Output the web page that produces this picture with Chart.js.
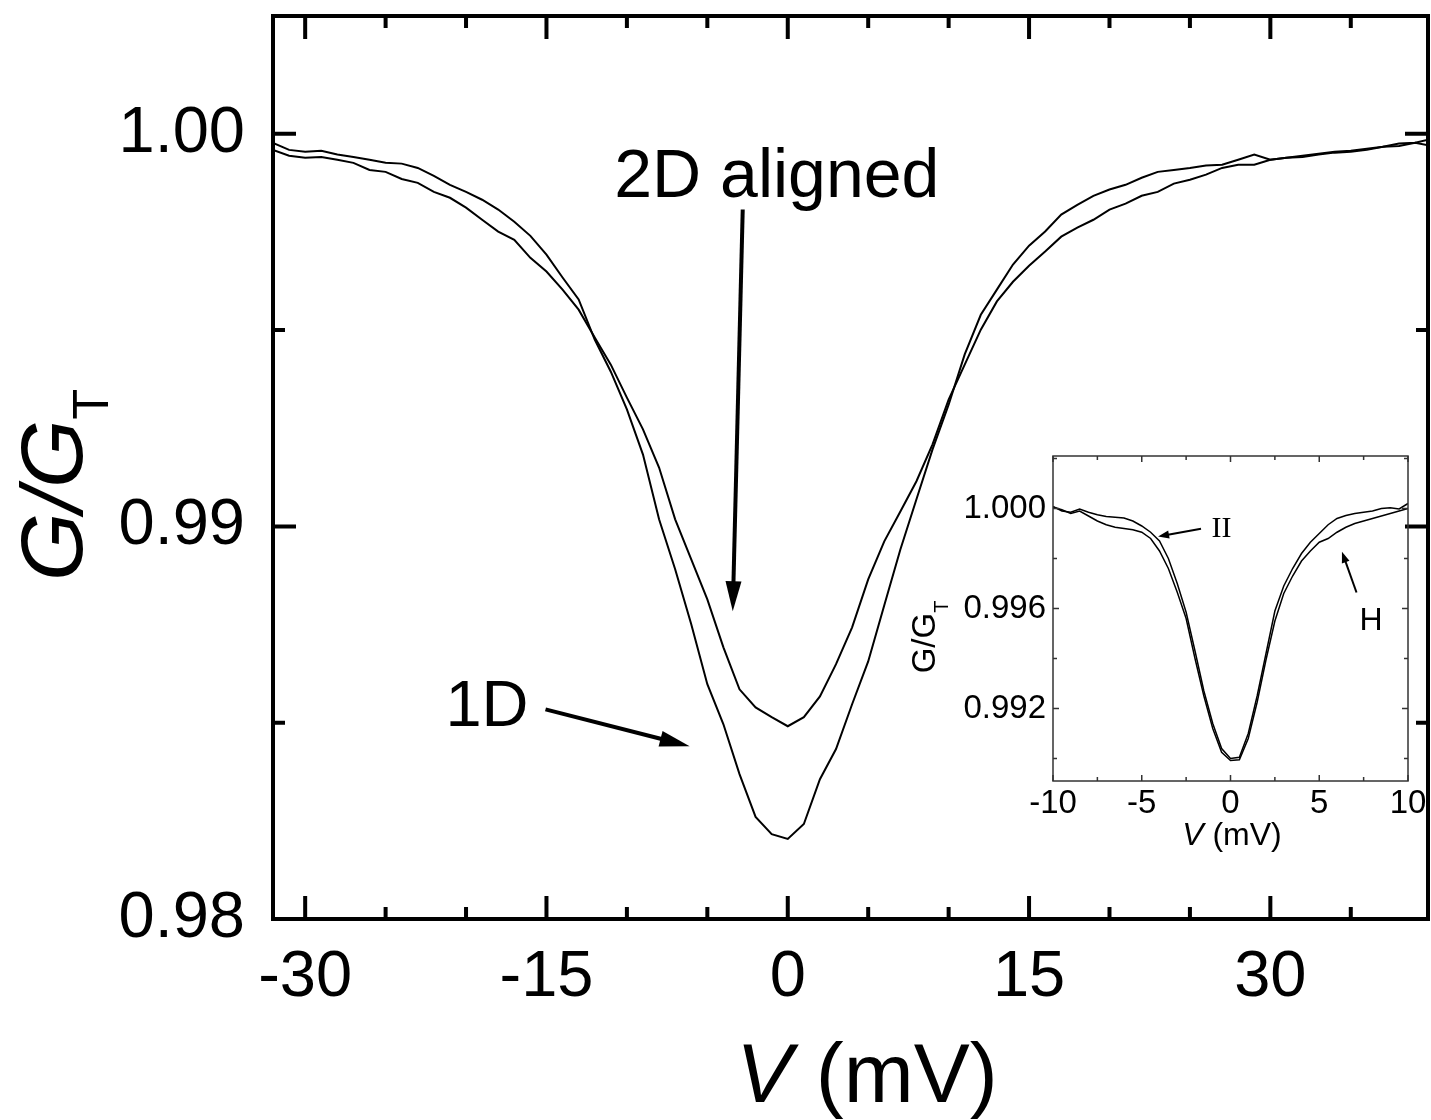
<!DOCTYPE html>
<html>
<head>
<meta charset="utf-8">
<title>G/GT vs V</title>
<script src="https://cdn.jsdelivr.net/npm/chart.js@4.4.0/dist/chart.umd.min.js"></script>
<style>
  html, body { margin: 0; padding: 0; background: #fff; }
  #wrap { position: relative; width: 1431px; height: 1120px; }
  #main { position: absolute; left: 0; top: 0; }
  #inset { position: absolute; left: 880px; top: 440px; }
</style>
</head>
<body>
<div id="wrap">
  <canvas id="main" width="1431" height="1120"></canvas>
  <canvas id="inset" width="551" height="440"></canvas>
</div>
<script>
// ---- main panel data (V in mV, G/GT) ----
const mainVoltage = [-32, -31, -30, -29, -28, -27, -26, -25, -24, -23, -22, -21, -20, -19, -18, -17,
  -16, -15, -14, -13, -12, -11, -10, -9, -8, -7, -6, -5, -4, -3, -2, -1, 0, 1, 2, 3, 4, 5, 6, 7, 8,
  9, 10, 11, 12, 13, 14, 15, 16, 17, 18, 19, 20, 21, 22, 23, 24, 25, 26, 27, 28, 29, 30, 31, 32, 33,
  34, 35, 36, 37, 38, 39, 40];
const main1D = [0.99977, 0.99959, 0.99954, 0.99957, 0.99947, 0.99941, 0.99934, 0.99926, 0.99924,
  0.99913, 0.99893, 0.99870, 0.99852, 0.99832, 0.99807, 0.99776, 0.99740, 0.99692, 0.99634, 0.99578,
  0.99476, 0.99394, 0.99298, 0.99183, 0.99018, 0.98891, 0.98751, 0.98598, 0.98496, 0.98369, 0.98260,
  0.98216, 0.98204, 0.98242, 0.98356, 0.98433, 0.98547, 0.98656, 0.98799, 0.98941, 0.99069, 0.99196,
  0.99310, 0.99438, 0.99539, 0.99603, 0.99667, 0.99715, 0.99751, 0.99794, 0.99819, 0.99842, 0.99858,
  0.99870, 0.99888, 0.99903, 0.99908, 0.99913, 0.99919, 0.99921, 0.99934, 0.99947, 0.99934, 0.99939,
  0.99944, 0.99949, 0.99954, 0.99957, 0.99962, 0.99967, 0.99975, 0.99977, 0.99987];
const main2D = [0.99959, 0.99944, 0.99939, 0.99941, 0.99934, 0.99926, 0.99908, 0.99903, 0.99885,
  0.99875, 0.99852, 0.99837, 0.99812, 0.99781, 0.99751, 0.99730, 0.99684, 0.99649, 0.99603, 0.99552,
  0.99481, 0.99412, 0.99328, 0.99247, 0.99150, 0.99018, 0.98916, 0.98814, 0.98692, 0.98585, 0.98539,
  0.98514, 0.98491, 0.98514, 0.98567, 0.98649, 0.98743, 0.98865, 0.98962, 0.99038, 0.99115, 0.99209,
  0.99323, 0.99412, 0.99501, 0.99573, 0.99623, 0.99664, 0.99700, 0.99738, 0.99761, 0.99781, 0.99807,
  0.99822, 0.99842, 0.99852, 0.99873, 0.99883, 0.99896, 0.99913, 0.99921, 0.99921, 0.99934, 0.99939,
  0.99941, 0.99947, 0.99952, 0.99954, 0.99959, 0.99967, 0.99969, 0.99977, 0.99969];

// ---- inset data ----
const insetVoltage = [-10, -9.5, -9, -8.5, -8, -7.5, -7, -6.5, -6, -5.5, -5, -4.5, -4, -3.5, -3, -2.5,
  -2, -1.5, -1, -0.5, 0, 0.5, 1, 1.5, 2, 2.5, 3, 3.5, 4, 4.5, 5, 5.5, 6, 6.5, 7, 7.5, 8, 8.5, 9, 9.5, 10];
const insetPar = [1.00008, 0.99990, 0.99985, 0.99998, 0.99985, 0.99975, 0.99968, 0.99965, 0.99962,
  0.99950, 0.99930, 0.99905, 0.99870, 0.99800, 0.99700, 0.99585, 0.99430, 0.99270, 0.99140, 0.99040,
  0.99000, 0.99005, 0.99100, 0.99250, 0.99420, 0.99590, 0.99690, 0.99760, 0.99820, 0.99865, 0.99900,
  0.99935, 0.99960, 0.99972, 0.99980, 0.99985, 0.99990, 1.00000, 1.00003, 0.99998, 1.00020];
const insetPerp = [1.00005, 0.99995, 0.99980, 0.99990, 0.99970, 0.99950, 0.99935, 0.99925, 0.99920,
  0.99915, 0.99905, 0.99880, 0.99830, 0.99760, 0.99665, 0.99560, 0.99400, 0.99250, 0.99120, 0.99025,
  0.98992, 0.98995, 0.99080, 0.99225, 0.99395, 0.99550, 0.99660, 0.99730, 0.99790, 0.99830, 0.99865,
  0.99880, 0.99905, 0.99925, 0.99940, 0.99950, 0.99960, 0.99970, 0.99980, 0.99990, 1.00000];

// ---- ticks ----
const mainXMajor = [-30, -15, 0, 15, 30];
const mainXMinor = [-25, -20, -10, -5, 5, 10, 20, 25, 35];
const mainYMajor = [0.98, 0.99, 1.00];
const mainYMinor = [0.985, 0.995];
const insetXMajor = [-10, -5, 0, 5, 10];
const insetXMinor = [-7.5, -2.5, 2.5, 7.5];
const insetYMajor = [0.992, 0.996, 1.000];
const insetYMinor = [0.990, 0.994, 0.998, 1.002];

const SANS = "'Liberation Sans', Arial, Helvetica, sans-serif";
const SERIF = "'Liberation Serif', 'Times New Roman', serif";

function toPoints(xs, ys) {
  return xs.map((v, i) => ({ x: v, y: ys[i] }));
}

// inward ticks on all four sides plus the frame
function frameTicks(opts) {
  return {
    id: 'frameTicks',
    afterDraw(chart) {
      const { ctx, chartArea: a, scales: { x, y } } = chart;
      ctx.save();
      ctx.strokeStyle = opts.color;
      ctx.lineWidth = opts.tickWidth;
      ctx.beginPath();
      const xt = (vals, len) => vals.forEach(v => {
        const p = x.getPixelForValue(v);
        ctx.moveTo(p, a.bottom); ctx.lineTo(p, a.bottom - len);
        ctx.moveTo(p, a.top); ctx.lineTo(p, a.top + len);
      });
      const yt = (vals, len) => vals.forEach(v => {
        const p = y.getPixelForValue(v);
        ctx.moveTo(a.left, p); ctx.lineTo(a.left + len, p);
        ctx.moveTo(a.right, p); ctx.lineTo(a.right - len, p);
      });
      xt(opts.xMajor, opts.major); xt(opts.xMinor, opts.minor);
      yt(opts.yMajor, opts.major); yt(opts.yMinor, opts.minor);
      ctx.stroke();
      ctx.lineWidth = opts.frameWidth;
      ctx.strokeRect(a.left, a.top, a.right - a.left, a.bottom - a.top);
      ctx.restore();
    }
  };
}

function drawArrow(ctx, x1, y1, x2, y2, w, headLen, headHalf) {
  const ang = Math.atan2(y2 - y1, x2 - x1);
  const c = Math.cos(ang), s = Math.sin(ang);
  const bx = x2 - headLen * c, by = y2 - headLen * s;
  ctx.lineWidth = w;
  ctx.beginPath(); ctx.moveTo(x1, y1); ctx.lineTo(bx + c, by + s); ctx.stroke();
  ctx.beginPath();
  ctx.moveTo(x2, y2);
  ctx.lineTo(bx + headHalf * s, by - headHalf * c);
  ctx.lineTo(bx - headHalf * s, by + headHalf * c);
  ctx.closePath(); ctx.fill();
}

// axis titles with italic symbols and subscript
function drawRotTitle(ctx, cx, baseX, mainFont, subFont, subDrop) {
  ctx.save();
  ctx.font = mainFont;
  const w1 = ctx.measureText('G/G').width;
  ctx.font = subFont;
  const w2 = ctx.measureText('T').width;
  const total = w1 + w2;
  ctx.translate(baseX, cx);
  ctx.rotate(-Math.PI / 2);
  ctx.textBaseline = 'alphabetic';
  ctx.textAlign = 'left';
  ctx.font = mainFont;
  ctx.fillText('G/G', -total / 2, 0);
  ctx.font = subFont;
  ctx.fillText('T', -total / 2 + w1, subDrop);
  ctx.restore();
}

function drawVTitle(ctx, cx, base, size) {
  ctx.save();
  ctx.textBaseline = 'alphabetic';
  ctx.textAlign = 'left';
  ctx.font = 'italic ' + size + 'px ' + SANS;
  const wV = ctx.measureText('V').width;
  ctx.font = size + 'px ' + SANS;
  const wR = ctx.measureText(' (mV)').width;
  const x0 = cx - (wV + wR) / 2;
  ctx.font = 'italic ' + size + 'px ' + SANS;
  ctx.fillText('V', x0, base);
  ctx.font = size + 'px ' + SANS;
  ctx.fillText(' (mV)', x0 + wV, base);
  ctx.restore();
}

const mainNotes = {
  id: 'mainNotes',
  afterDraw(chart) {
    const { ctx, scales: { x, y } } = chart;
    ctx.save();
    ctx.fillStyle = '#000'; ctx.strokeStyle = '#000';
    ctx.textAlign = 'center'; ctx.textBaseline = 'alphabetic';
    ctx.font = '68px ' + SANS;
    ctx.fillText('2D aligned', x.getPixelForValue(-0.68), y.getPixelForValue(0.99840));
    ctx.font = '65px ' + SANS;
    ctx.fillText('1D', x.getPixelForValue(-18.7), y.getPixelForValue(0.98491));
    drawArrow(ctx, x.getPixelForValue(-2.80), y.getPixelForValue(0.99807),
      x.getPixelForValue(-3.42), y.getPixelForValue(0.98784), 4, 30, 8);
    drawArrow(ctx, x.getPixelForValue(-15.06), y.getPixelForValue(0.98534),
      x.getPixelForValue(-6.10), y.getPixelForValue(0.98440), 4, 30, 8);
    drawVTitle(ctx, 867, 1102, 84);
    drawRotTitle(ctx, 485, 82, 'italic 88px ' + SANS, '50px ' + SANS, 26);
    ctx.restore();
  }
};

const insetNotes = {
  id: 'insetNotes',
  afterDraw(chart) {
    const { ctx, scales: { x, y } } = chart;
    ctx.save();
    ctx.fillStyle = '#000'; ctx.strokeStyle = '#000';
    ctx.textAlign = 'center'; ctx.textBaseline = 'alphabetic';
    ctx.font = '30px ' + SERIF;
    ctx.fillText('II', x.getPixelForValue(-0.51), y.getPixelForValue(0.99888));
    ctx.font = '32px ' + SANS;
    ctx.fillText('H', x.getPixelForValue(7.92), y.getPixelForValue(0.99516));
    drawArrow(ctx, x.getPixelForValue(-1.66), y.getPixelForValue(0.99919),
      x.getPixelForValue(-4.08), y.getPixelForValue(0.99888), 2, 11, 4);
    drawArrow(ctx, x.getPixelForValue(7.10), y.getPixelForValue(0.99664),
      x.getPixelForValue(6.28), y.getPixelForValue(0.99827), 2, 11, 4);
    drawVTitle(ctx, 352, 405, 32);
    drawRotTitle(ctx, 197, 55, '33px ' + SANS, '20px ' + SANS, 13);
    ctx.restore();
  }
};

function lineSet(label, pts, w) {
  return { label, data: pts, showLine: true, borderColor: '#000', borderWidth: w,
    pointRadius: 0, tension: 0, fill: false };
}

// fixed axis box size; drop the label overhang padding so the plot area sits where we want
function fixBox(prop, size) {
  return s => {
    s[prop] = size;
    s.paddingTop = 0; s.paddingBottom = 0; s.paddingLeft = 0; s.paddingRight = 0;
  };
}

function axis(min, max, majors, fmt, font, pad, fitFn) {
  return {
    type: 'linear', min, max,
    afterBuildTicks: s => { s.ticks = majors.map(v => ({ value: v })); },
    afterFit: fitFn,
    grid: { display: false, drawTicks: false },
    border: { display: false },
    ticks: { color: '#000', font: { family: SANS, size: font }, padding: pad,
      autoSkip: false, maxRotation: 0, callback: fmt }
  };
}

new Chart(document.getElementById('main'), {
  type: 'scatter',
  data: {
    datasets: [
      lineSet('1D', toPoints(mainVoltage, main1D), 2),
      lineSet('2D aligned', toPoints(mainVoltage, main2D), 2)
    ]
  },
  options: {
    responsive: false,
    animation: false,
    layout: { padding: { top: 16, right: 3, left: 0, bottom: 0 } },
    plugins: { legend: { display: false }, tooltip: { enabled: false } },
    scales: {
      x: axis(-32, 39.8, mainXMajor, v => String(v), 65, 20, fixBox('height', 201)),
      y: axis(0.98, 1.003, mainYMajor, v => v.toFixed(2), 65, 28, fixBox('width', 273))
    }
  },
  plugins: [frameTicks({ color: '#000', tickWidth: 4, frameWidth: 4, major: 23, minor: 12,
    xMajor: mainXMajor, xMinor: mainXMinor, yMajor: mainYMajor, yMinor: mainYMinor }), mainNotes]
});

new Chart(document.getElementById('inset'), {
  type: 'scatter',
  data: {
    datasets: [
      lineSet('II', toPoints(insetVoltage, insetPar), 1.5),
      lineSet('H', toPoints(insetVoltage, insetPerp), 1.5)
    ]
  },
  options: {
    responsive: false,
    animation: false,
    layout: { padding: { top: 16, right: 23, left: 0, bottom: 0 } },
    plugins: { legend: { display: false }, tooltip: { enabled: false } },
    scales: {
      x: axis(-10, 10, insetXMajor, v => String(v), 33, 3, fixBox('height', 99)),
      y: axis(0.9891, 1.0021, insetYMajor, v => v.toFixed(3), 33, 7, fixBox('width', 173))
    }
  },
  plugins: [frameTicks({ color: '#333', tickWidth: 1.5, frameWidth: 1.5, major: 6, minor: 4,
    xMajor: insetXMajor, xMinor: insetXMinor, yMajor: insetYMajor, yMinor: insetYMinor }), insetNotes]
});
</script>
</body>
</html>
